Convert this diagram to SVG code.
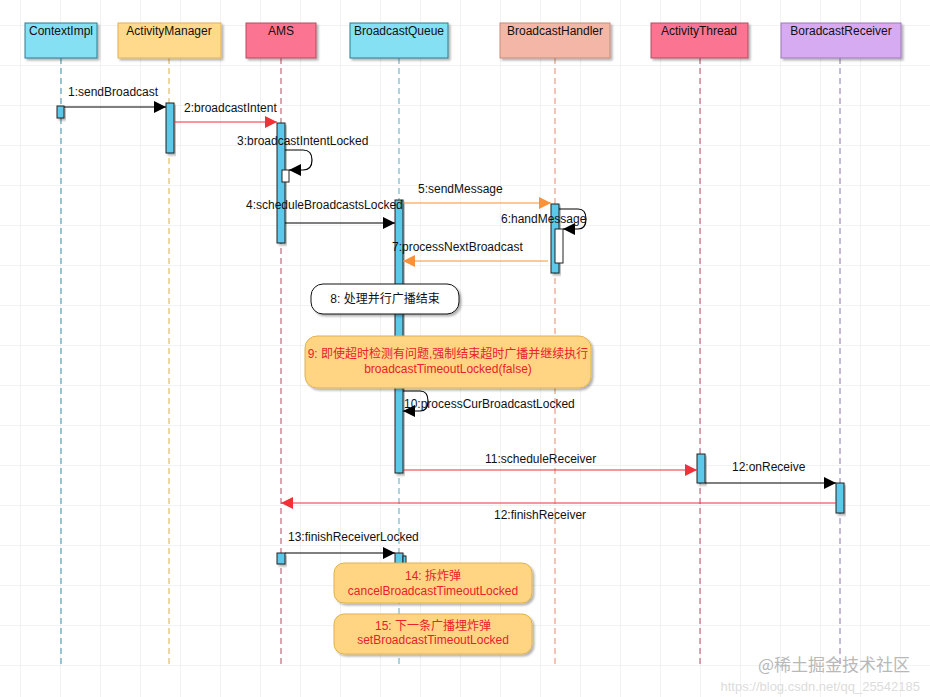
<svg xmlns="http://www.w3.org/2000/svg" width="930" height="697" viewBox="0 0 930 697">
<style>
text{font-family:"Liberation Sans",Arial,sans-serif;font-size:12px;fill:#111}
.ll{stroke-width:1;stroke-dasharray:6 4;fill:none}
.act{fill:#5bc8ea;stroke:#222;stroke-width:1}
.wa{fill:#fff;stroke:#222;stroke-width:1}
.m{fill:none;stroke-width:1.2}
.red{fill:#e8212b}
</style>
<defs>
<pattern id="g" width="40" height="40" patternUnits="userSpaceOnUse" x="20" y="25">
<path d="M40 0H0V40" fill="none" stroke="#e6e6e6" stroke-width="1"/>
</pattern>
<filter id="sh" x="-10%" y="-10%" width="130%" height="140%"><feDropShadow dx="2" dy="2" stdDeviation="1.2" flood-color="#000" flood-opacity="0.3"/></filter>
<marker id="ab" viewBox="0 0 10 10" refX="10" refY="5" markerWidth="10" markerHeight="10" orient="auto"><path d="M0 0L10 5L0 10z" fill="#000"/></marker>
<marker id="ar" viewBox="0 0 10 10" refX="10" refY="5" markerWidth="10" markerHeight="10" orient="auto"><path d="M0 0L10 5L0 10z" fill="#f0313a"/></marker>
<marker id="ao" viewBox="0 0 10 10" refX="10" refY="5" markerWidth="10" markerHeight="10" orient="auto"><path d="M0 0L10 5L0 10z" fill="#f7923a"/></marker>
</defs>
<rect width="930" height="697" fill="#fff"/>
<rect width="930" height="697" fill="url(#g)"/>

<g id="ContextImpl"><line class="ll" x1="61" y1="58" x2="61" y2="665" stroke="#3a8fa5"/><rect x="25" y="23" width="72" height="35" fill="#86e0f4" stroke="#2b7a90" filter="url(#sh)"/><text x="61" y="35" text-anchor="middle">ContextImpl</text></g>
<g id="ActivityManager"><line class="ll" x1="169" y1="58" x2="169" y2="665" stroke="#d9b044"/><rect x="118" y="23" width="103" height="35" fill="#ffd98c" stroke="#e0b24e" filter="url(#sh)"/><text x="169" y="35" text-anchor="middle">ActivityManager</text></g>
<g id="AMS"><line class="ll" x1="281" y1="58" x2="281" y2="665" stroke="#b54a60"/><rect x="246" y="23" width="70" height="35" fill="#fb7593" stroke="#b54a60" filter="url(#sh)"/><text x="281" y="35" text-anchor="middle">AMS</text></g>
<g id="BroadcastQueue"><line class="ll" x1="399" y1="58" x2="399" y2="665" stroke="#5aa7bd"/><rect x="350" y="23" width="98" height="35" fill="#86e0f4" stroke="#2b7a90" filter="url(#sh)"/><text x="399" y="35" text-anchor="middle">BroadcastQueue</text></g>
<g id="BroadcastHandler"><line class="ll" x1="555" y1="58" x2="555" y2="665" stroke="#e08a6a"/><rect x="500" y="23" width="110" height="35" fill="#f4b6a6" stroke="#c88a78" filter="url(#sh)"/><text x="555" y="35" text-anchor="middle">BroadcastHandler</text></g>
<g id="ActivityThread"><line class="ll" x1="700" y1="58" x2="700" y2="665" stroke="#b54a60"/><rect x="651" y="23" width="97" height="35" fill="#fb7593" stroke="#b54a60" filter="url(#sh)"/><text x="699" y="35" text-anchor="middle">ActivityThread</text></g>
<g id="BoradcastReceiver"><line class="ll" x1="840" y1="58" x2="840" y2="665" stroke="#8a74b0"/><rect x="781" y="23" width="120" height="35" fill="#d7abf2" stroke="#9a7ab8" filter="url(#sh)"/><text x="841" y="35" text-anchor="middle">BoradcastReceiver</text></g>

<g id="activations">
<rect class="act" x="57" y="106" width="7" height="12" filter="url(#sh)"/>
<rect class="act" x="166" y="103" width="8" height="50" filter="url(#sh)"/>
<rect class="act" x="277" y="123" width="8" height="120" filter="url(#sh)"/>
<rect class="wa" x="282" y="170" width="7" height="12"/>
<rect class="act" x="395" y="200" width="8" height="273" filter="url(#sh)"/>
<rect class="act" x="551" y="204" width="8" height="69" filter="url(#sh)"/>
<rect class="wa" x="555" y="229" width="8" height="34"/>
<rect class="act" x="697" y="454" width="8" height="29" filter="url(#sh)"/>
<rect class="act" x="836" y="483" width="8" height="30" filter="url(#sh)"/>
<rect class="act" x="277" y="553" width="8" height="11" filter="url(#sh)"/>
<rect class="act" x="395" y="553" width="8" height="12" filter="url(#sh)"/>
<rect class="act" x="403" y="556" width="3" height="9"/>
</g>

<g id="connectors">
<line class="m" x1="64" y1="107" x2="166" y2="107" stroke="#000" marker-end="url(#ab)"/>
<line class="m" x1="174" y1="122" x2="277" y2="122" stroke="#f0313a" marker-end="url(#ar)"/>
<path class="m" d="M285 150H303Q312 150 312 160Q312 170 303 170H289" stroke="#000" marker-end="url(#ab)"/>
<line class="m" x1="285" y1="223" x2="395" y2="223" stroke="#000" marker-end="url(#ab)"/>
<line class="m" x1="403" y1="203" x2="551" y2="203" stroke="#f7923a" marker-end="url(#ao)"/>
<path class="m" d="M559 209H578Q586 209 586 219Q586 229 578 229H563" stroke="#000" marker-end="url(#ab)"/>
<line class="m" x1="548" y1="261" x2="403" y2="261" stroke="#f7923a" marker-end="url(#ao)"/>
<path class="m" d="M403 391H420Q428 391 428 401Q428 411 420 411H403" stroke="#000" marker-end="url(#ab)"/>
<line class="m" x1="403" y1="470" x2="697" y2="470" stroke="#f0313a" marker-end="url(#ar)"/>
<line class="m" x1="705" y1="483" x2="836" y2="483" stroke="#000" marker-end="url(#ab)"/>
<line class="m" x1="836" y1="503" x2="281" y2="503" stroke="#f0313a" marker-end="url(#ar)"/>
<line class="m" x1="285" y1="553" x2="395" y2="553" stroke="#000" marker-end="url(#ab)"/>
</g>

<g id="labels">
<text x="68" y="96">1:sendBroadcast</text>
<text x="184" y="112">2:broadcastIntent</text>
<text x="237" y="145">3:broadcastIntentLocked</text>
<text x="246" y="209">4:scheduleBroadcastsLocked</text>
<text x="418" y="193">5:sendMessage</text>
<text x="501" y="223">6:handMessage</text>
<text x="392" y="251">7:processNextBroadcast</text>
<text x="404" y="408">10:processCurBroadcastLocked</text>
<text x="485" y="463">11:scheduleReceiver</text>
<text x="732" y="471">12:onReceive</text>
<text x="494" y="519">12:finishReceiver</text>
<text x="288" y="541">13:finishReceiverLocked</text>
</g>

<g id="note8"><rect x="311" y="284" width="148" height="30" rx="12" fill="#fff" stroke="#111" filter="url(#sh)"/><text x="385" y="303" text-anchor="middle" style="font-family:'Liberation Sans','Noto Sans CJK SC',sans-serif">8: 处理并行广播结束</text></g>
<g id="note9"><rect x="305" y="336" width="286" height="52" rx="12" fill="#ffd584" stroke="#e0b24e" filter="url(#sh)"/><text x="448" y="358" text-anchor="middle" class="red" style="font-family:'Liberation Sans','Noto Sans CJK SC',sans-serif">9: 即使超时检测有问题,强制结束超时广播并继续执行</text><text x="448" y="373" text-anchor="middle" class="red">broadcastTimeoutLocked(false)</text></g>
<g id="note14"><rect x="334" y="563" width="198" height="40" rx="10" fill="#ffd584" stroke="#e0b24e" filter="url(#sh)"/><text x="433" y="580" text-anchor="middle" class="red" style="font-family:'Liberation Sans','Noto Sans CJK SC',sans-serif">14: 拆炸弹</text><text x="433" y="595" text-anchor="middle" class="red">cancelBroadcastTimeoutLocked</text></g>
<g id="note15"><rect x="334" y="614" width="198" height="40" rx="10" fill="#ffd584" stroke="#e0b24e" filter="url(#sh)"/><text x="433" y="630" text-anchor="middle" class="red" style="font-family:'Liberation Sans','Noto Sans CJK SC',sans-serif">15: 下一条广播埋炸弹</text><text x="433" y="644" text-anchor="middle" class="red">setBroadcastTimeoutLocked</text></g>

<g id="watermark">
<text x="910" y="671" text-anchor="end" style="font-family:'Noto Sans CJK SC',sans-serif;font-size:17px;fill:#b8b8b8">@稀土掘金技术社区</text>
<text x="920" y="691" text-anchor="end" style="font-size:13px;fill:#dcdcdc">https://blog.csdn.net/qq_25542185</text>
</g>
</svg>
